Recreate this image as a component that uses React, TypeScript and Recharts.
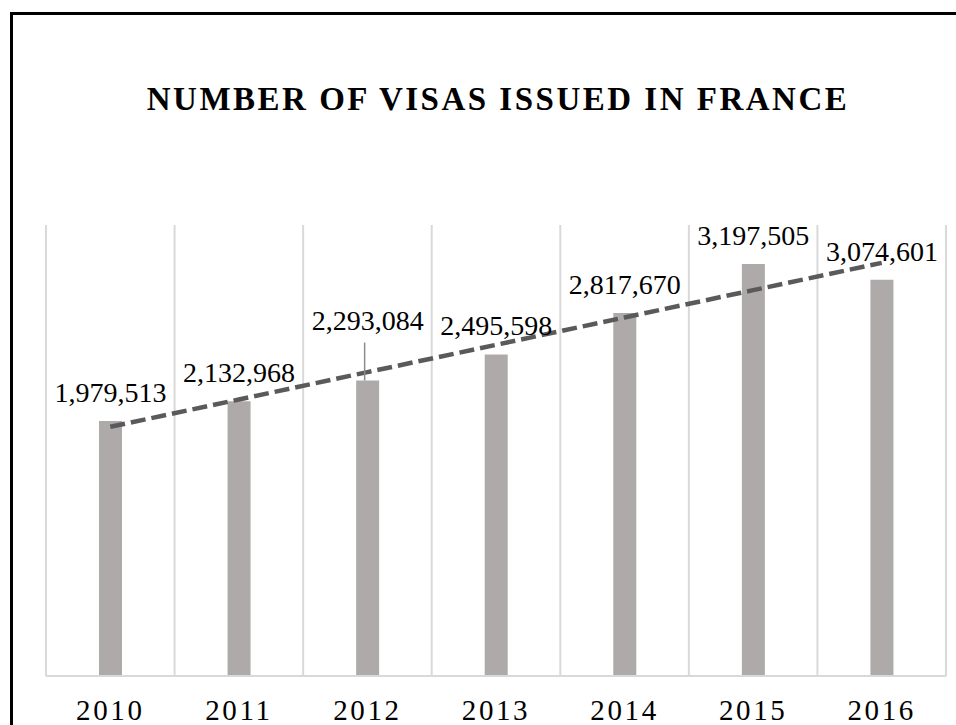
import * as React from "react";
import {
  ComposedChart,
  Bar,
  Line,
  XAxis,
  YAxis,
  CartesianGrid,
  LabelList,
  Customized,
} from "recharts";

const years = ["2010", "2011", "2012", "2013", "2014", "2015", "2016"];
const visas = [1979513, 2132968, 2293084, 2495598, 2817670, 3197505, 3074601];
const yDomain = [0, 3500000];

const SERIF = "'Liberation Serif', 'Times New Roman', serif";

// linear trendline (least squares), like the one Excel adds
function linearTrend(values: number[]) {
  const n = values.length;
  const mx = (n - 1) / 2;
  const my = values.reduce((a, b) => a + b, 0) / n;
  let num = 0;
  let den = 0;
  values.forEach((v, i) => {
    num += (i - mx) * (v - my);
    den += (i - mx) * (i - mx);
  });
  const slope = num / den;
  return values.map((_, i) => my + slope * (i - mx));
}

const trend = linearTrend(visas);

const data = years.map((y, i) => ({ year: y, visas: visas[i], trend: trend[i] }));

const ValueLabel = (props: any) => {
  const { x, y, width, value, index } = props;
  const cx = Number(x) + Number(width) / 2;
  const top = Number(y);
  // 2012 label sits higher, with a leader line down to the bar
  const lifted = index === 2;
  return (
    <g>
      {lifted && (
        <line x1={cx - 3} x2={cx - 3} y1={top - 38} y2={top} stroke="#8c8c8c" strokeWidth={1.5} />
      )}
      <text
        x={cx}
        y={lifted ? top - 51 : top - 19}
        textAnchor="middle"
        fontFamily={SERIF}
        fontSize={28}
        fill="#000"
      >
        {Number(value).toLocaleString("en-US")}
      </text>
    </g>
  );
};

const YearTick = (props: any) => {
  const { x, y, payload } = props;
  return (
    <text
      x={x}
      y={y + 44}
      textAnchor="middle"
      fontFamily={SERIF}
      fontSize={29}
      letterSpacing={2.6}
      fill="#000"
    >
      {payload.value}
    </text>
  );
};

const Title = (props: any) => {
  const off = props.offset || { left: 46, width: 900 };
  return (
    <text
      x={off.left + off.width / 2 + 2}
      y={110}
      textAnchor="middle"
      fontFamily={SERIF}
      fontWeight="bold"
      fontSize={33}
      letterSpacing={2.5}
      fill="#000"
    >
      NUMBER OF VISAS ISSUED IN FRANCE
    </text>
  );
};

export default function App() {
  return (
    <div
      style={{
        position: "absolute",
        left: 0,
        top: 0,
        width: 956,
        height: 725,
        overflow: "hidden",
        background: "#fff",
      }}
    >
      <div
        style={{
          position: "absolute",
          left: 10,
          top: 12,
          right: 0,
          bottom: 0,
          borderTop: "3px solid #000",
          borderLeft: "3px solid #000",
        }}
      />
      <div style={{ position: "absolute", left: 0, top: 0 }}>
        <ComposedChart
          width={956}
          height={725}
          data={data}
          margin={{ top: 225, right: 10, bottom: 0, left: 46 }}
        >
          <CartesianGrid
            horizontal={false}
            stroke="#d9d9d9"
            strokeWidth={2}
            verticalCoordinatesGenerator={({ offset }: any) =>
              years
                .concat("")
                .map((_, i) => offset.left + (i * offset.width) / years.length)
            }
          />
          <XAxis
            dataKey="year"
            height={49}
            tickLine={false}
            tickSize={0}
            tickMargin={0}
            axisLine={{ stroke: "#d9d9d9", strokeWidth: 2 }}
            tick={<YearTick />}
            interval={0}
          />
          <YAxis hide domain={yDomain} />
          <Bar dataKey="visas" fill="#aeaaaa" barSize={23} isAnimationActive={false}>
            <LabelList dataKey="visas" content={<ValueLabel />} />
          </Bar>
          <Line
            dataKey="trend"
            type="linear"
            stroke="#5a5a5a"
            strokeWidth={4.5}
            strokeDasharray="15 6"
            dot={false}
            activeDot={false}
            isAnimationActive={false}
          />
          <Customized component={Title} />
        </ComposedChart>
      </div>
    </div>
  );
}
